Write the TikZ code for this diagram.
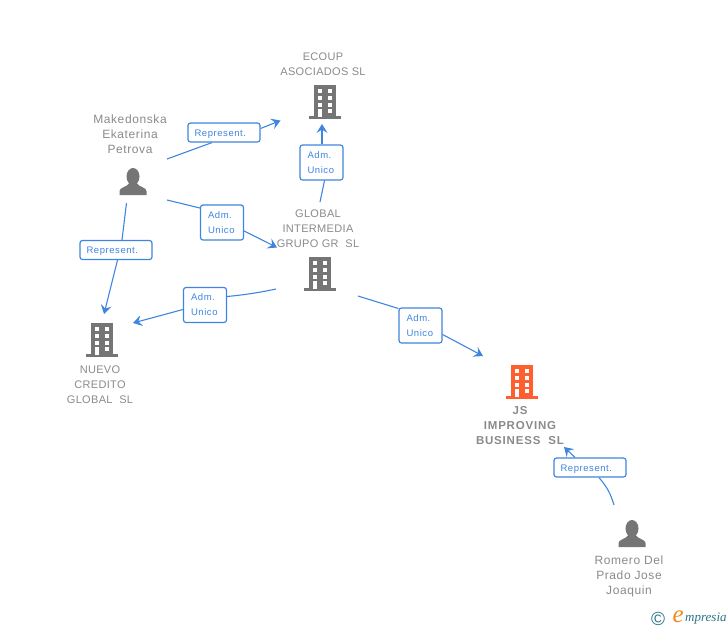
\documentclass[tikz,border=0pt]{standalone}
\usepackage{fontspec}
\setmainfont{Liberation Sans}
\newfontfamily\logofont{Liberation Serif}
\usetikzlibrary{arrows.meta,backgrounds}
\definecolor{linkblue}{HTML}{3F85E0}
\definecolor{namegrey}{HTML}{8A8A8A}
\definecolor{icongrey}{HTML}{757575}
\definecolor{iconorange}{HTML}{FF5F2E}
\definecolor{logoteal}{HTML}{2A7385}
\definecolor{logoorange}{HTML}{F08A1D}
\tikzset{
  namelabel/.style={text=namegrey,align=center,font=\fontsize{11}{15}\selectfont\addfontfeature{LetterSpace=3}},
  personlabel/.style={namelabel,font=\fontsize{12}{15}\selectfont\addfontfeature{LetterSpace=5}},
  mainlabel/.style={namelabel,font=\fontsize{11.5}{15}\selectfont\bfseries\addfontfeature{LetterSpace=7}},
  relbox/.style={draw=linkblue,fill=white,rounded corners=2.5pt,line width=1.2pt,text=linkblue,align=left,font=\fontsize{9.5}{15}\selectfont\addfontfeature{LetterSpace=6}},
  repbox/.style={relbox,text width=59pt,text height=9pt,text depth=2pt,inner xsep=6.5pt,inner ysep=0pt,minimum height=19pt},
  admbox/.style={relbox,text width=28pt,inner xsep=7.5pt,inner ysep=0pt,minimum height=35pt},
  link/.style={draw=linkblue,line width=1.1pt},
  arrowlink/.style={link,-{Stealth[length=9pt,width=11pt,inset=3.5pt]}},
  building/.pic={
    \fill[#1] (-11,-17) rectangle (11,15);
    \fill[#1] (-16,14) rectangle (16,17);
    \foreach \wy in {-13,-6,1}{
      \fill[white] (-7.2,\wy) rectangle (-2.7,\wy+4);
      \fill[white] (2.8,\wy) rectangle (7.3,\wy+4);
    }
    \fill[white] (-7.2,7) rectangle (-2.7,15);
    \fill[white] (2.8,7) rectangle (7.3,11);
  },
  person/.pic={
    \fill[icongrey] (0,-5.5) ellipse (6.5 and 8.5);
    \fill[icongrey] (-13.5,13) -- (-13.5,9) .. controls (-13.5,5.5) and (-6,5) .. (-3.5,1) -- (3.5,1)
      .. controls (6,5) and (13.5,5.5) .. (13.5,9) -- (13.5,13) -- cycle;
  }
}
\begin{document}
\begin{tikzpicture}[x=1pt,y=-1pt]
\useasboundingbox (0,0) rectangle (728,630);
% icons
\pic at (325,102) {building=icongrey};
\pic at (320,274) {building=icongrey};
\pic at (102,340) {building=icongrey};
\pic at (522,382) {building=iconorange};
\pic at (133,182) {person};
\pic at (632,534) {person};
% names
\node[namelabel] (ecoup) at (323,64) {ECOUP\\ASOCIADOS SL};
\node[personlabel] (makedonska) at (130,134.5) {Makedonska\\Ekaterina\\Petrova};
\node[namelabel] (global) at (318,229) {GLOBAL\\INTERMEDIA\\GRUPO GR\ \ SL};
\node[namelabel] (nuevo) at (100,385) {NUEVO\\CREDITO\\GLOBAL\ \ SL};
\node[mainlabel] (js) at (520,426) {JS\\IMPROVING\\BUSINESS\ \ SL};
\node[personlabel] (romero) at (629,576.5) {Romero Del\\Prado Jose\\Joaquin};
% relations
\node[repbox] (rep1) at (224,132.5) {Represent.};
\node[admbox] (adm1) at (321.5,162.5) {Adm.\\Unico};
\node[admbox] (adm2) at (222,222.5) {Adm.\\Unico};
\node[repbox] (rep2) at (116,250) {Represent.};
\node[admbox] (adm3) at (205,305) {Adm.\\Unico};
\node[admbox] (adm4) at (420.5,325.5) {Adm.\\Unico};
\node[repbox] (rep3) at (590,467.5) {Represent.};
% free ends
\coordinate (mkrep) at (167,159);
\coordinate (ecoupin) at (280.5,120.5);
\coordinate (globalup) at (320,202);
\coordinate (ecoupbase) at (322,124);
\coordinate (mkadm) at (167,200);
\coordinate (globalin) at (277,247.5);
\coordinate (mkdown) at (126.5,203);
\coordinate (nuevotop) at (104,314);
\coordinate (globalleft) at (276,289);
\coordinate (nuevoin) at (133,323);
\coordinate (globalright) at (358,296);
\coordinate (jsin) at (483,356);
\coordinate (romeroup) at (614,505);
\coordinate (jsout) at (564,447);
\begin{scope}[on background layer]
\draw[link] (mkrep) -- ([xshift=-12pt]rep1.south);
\draw[arrowlink] ([yshift=4pt]rep1.east) -- (ecoupin);
\draw[link] (globalup) -- ([xshift=3pt]adm1.south);
\draw[arrowlink] ([xshift=0.5pt]adm1.north) -- (ecoupbase);
\draw[link] (mkadm) -- ([yshift=14.5pt]adm2.west);
\draw[arrowlink] ([yshift=-8.5pt]adm2.east) -- (globalin);
\draw[link] (mkdown) -- ([xshift=6pt]rep2.north);
\draw[arrowlink] ([xshift=1.5pt]rep2.south) -- (nuevotop);
\draw[link] (globalleft) to[bend left=3] ([yshift=8.5pt]adm3.east);
\draw[arrowlink] ([yshift=-4.5pt]adm3.west) -- (nuevoin);
\draw[link] (globalright) -- ([yshift=17pt]adm4.west);
\draw[arrowlink] ([yshift=-9pt]adm4.east) -- (jsin);
\draw[link] (romeroup) to[bend right=12] ([xshift=9pt]rep3.south);
\draw[arrowlink] ([xshift=-15pt]rep3.north) -- (jsout);
\end{scope}
% logo
\node[text=logoteal,font=\fontsize{19}{19}\selectfont,inner sep=0pt] (copyright) at (658,619) {\textcopyright};
\node[text=logoteal,font=\logofont\itshape\fontsize{13}{13}\selectfont,inner sep=0pt,anchor=west] (logotext) at (685,619) {mpresia};
\node[text=logoorange,font=\logofont\itshape\fontsize{25}{25}\selectfont,inner sep=0pt,anchor=east] (logoe) at (684,617) {e};
\end{tikzpicture}
\end{document}
